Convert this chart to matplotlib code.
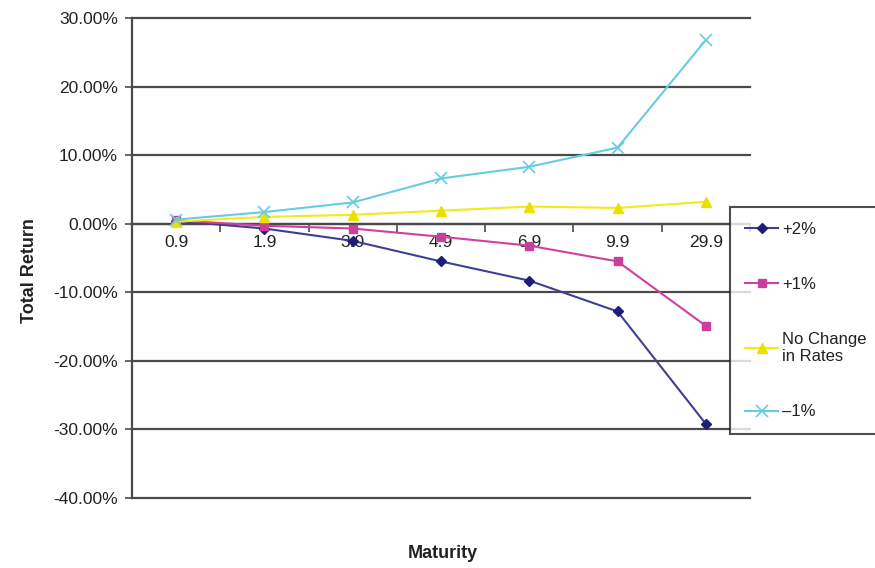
import matplotlib
matplotlib.use("Agg")
import matplotlib.pyplot as plt
from matplotlib.ticker import FuncFormatter, FixedLocator

plt.rcParams['font.family'] = ['Liberation Sans', 'DejaVu Sans']

maturities = ["0.9", "1.9", "3.0", "4.9", "6.9", "9.9", "29.9"]
up_2 = [0.4, -0.7, -2.5, -5.5, -8.3, -12.8, -29.2]
up_1 = [0.5, -0.3, -0.7, -1.9, -3.2, -5.5, -14.9]
no_change = [0.3, 1.0, 1.3, 1.9, 2.5, 2.3, 3.2]
down_1 = [0.6, 1.7, 3.1, 6.6, 8.3, 11.1, 26.8]

series_labels = ["+2%", "+1%", "No Change\nin Rates", "\u20131%"]
y_ticks = [-40, -30, -20, -10, 0, 10, 20, 30]

fig = plt.figure(figsize=(8.75, 5.68), dpi=100)
ax = fig.add_axes([132 / 875, 1 - 498 / 568, 618 / 875, 480 / 568])

x = list(range(len(maturities)))
styles = [
    dict(color="#3f3f96", marker="D", markersize=5.5, markerfacecolor="#1e1e78", markeredgecolor="#1e1e78"),
    dict(color="#d040a0", marker="s", markersize=6, markerfacecolor="#c8409a", markeredgecolor="#c8409a"),
    dict(color="#f2ea1a", marker="^", markersize=7, markerfacecolor="#ece000", markeredgecolor="#ece000"),
    dict(color="#66cce4", marker="x", markersize=8, markeredgewidth=1.2),
]
lines = []
for vals, lab, st in zip([up_2, up_1, no_change, down_1], series_labels, styles):
    ln, = ax.plot(x, vals, linewidth=1.5, label=lab, zorder=3, **st)
    lines.append(ln)

ax.set_xlim(-0.5, len(maturities) - 0.5)
ax.set_ylim(-40, 30)
ax.yaxis.set_major_locator(FixedLocator(y_ticks))
ax.yaxis.set_major_formatter(FuncFormatter(lambda v, p: f"{v:.2f}%"))
ax.grid(axis="y", color="#4a4a4a", linewidth=1.6, zorder=1)
for gl in ax.get_ygridlines():
    gl.set_clip_on(False)

ax.set_xticks(x)
ax.set_xticklabels(maturities)
ax.set_xticks([i + 0.5 for i in range(-1, len(maturities))], minor=True)
ax.tick_params(axis="x", which="major", length=0, pad=8, labelsize=12.5, colors="#222222")
ax.tick_params(axis="x", which="minor", length=6, width=1.2, direction="out", color="#4a4a4a")
ax.tick_params(axis="y", length=5, width=1.2, color="#4a4a4a", labelsize=12.5, labelcolor="#222222", pad=5)

for side in ("top", "right"):
    ax.spines[side].set_visible(False)
ax.spines["bottom"].set_position(("data", 0))
ax.spines["bottom"].set_color("#4a4a4a")
ax.spines["bottom"].set_linewidth(1.6)
ax.spines["left"].set_color("#4a4a4a")
ax.spines["left"].set_linewidth(1.6)

fig.text(30 / 875, 1 - 271 / 568, "Total Return", rotation=90, ha="center", va="center",
         fontsize=13, fontweight="bold", color="#222222")
fig.text(443 / 875, 1 - 553 / 568, "Maturity", ha="center", va="center",
         fontsize=13, fontweight="bold", color="#222222")

leg = ax.legend(handles=lines, loc="upper left", bbox_to_anchor=(730 / 875, 1 - 207 / 568),
                bbox_transform=fig.transFigure, frameon=True, fancybox=False,
                fontsize=12, labelspacing=2.4, handlelength=2.0, handletextpad=0.25,
                borderpad=0.9, borderaxespad=0)
leg.get_frame().set_edgecolor("#222222")
leg.get_frame().set_linewidth(1.5)
leg.set_zorder(5)
for t in leg.get_texts():
    t.set_color("#222222")
    t.set_linespacing(1.2)

fig.savefig("out.png", dpi=100)
